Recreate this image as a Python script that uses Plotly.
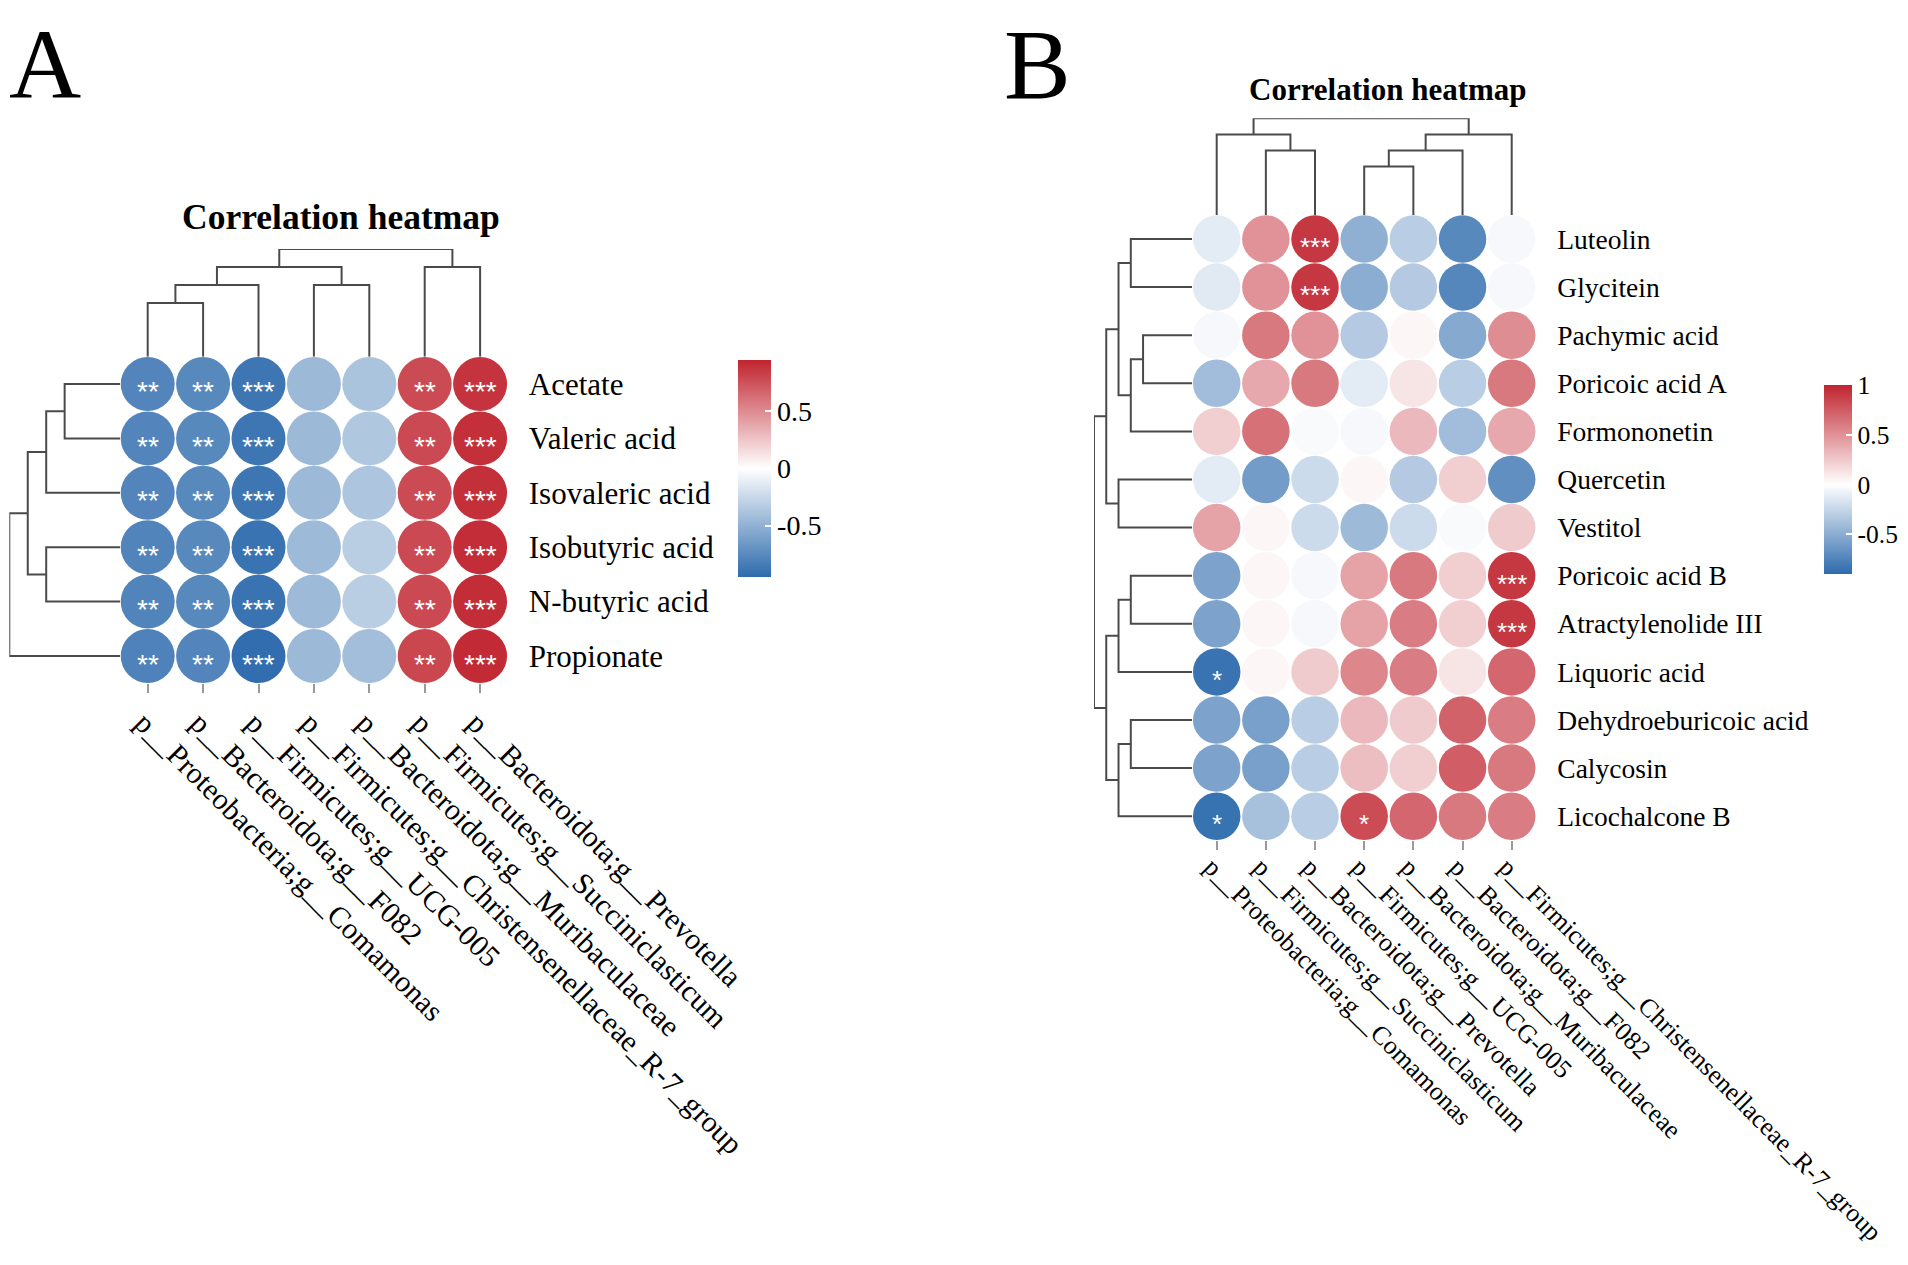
import plotly.graph_objects as go

# ---------------- Panel A data ----------------
a_rows = ["Acetate", "Valeric acid", "Isovaleric acid", "Isobutyric acid", "N-butyric acid", "Propionate"]
a_cols = ["p__Proteobacteria;g__Comamonas", "p__Bacteroidota;g__F082", "p__Firmicutes;g__UCG-005",
          "p__Firmicutes;g__Christensenellaceae_R-7_group", "p__Bacteroidota;g__Muribaculaceae",
          "p__Firmicutes;g__Succiniclasticum", "p__Bacteroidota;g__Prevotella"]
a_vals = [
    [-0.78, -0.76, -0.88, -0.45, -0.38, 0.78, 0.88],
    [-0.78, -0.76, -0.88, -0.45, -0.36, 0.79, 0.90],
    [-0.78, -0.76, -0.88, -0.45, -0.37, 0.78, 0.90],
    [-0.79, -0.76, -0.90, -0.44, -0.32, 0.79, 0.91],
    [-0.79, -0.76, -0.90, -0.44, -0.32, 0.79, 0.91],
    [-0.80, -0.78, -0.93, -0.45, -0.42, 0.80, 0.92],
]
a_sig = [["**", "**", "***", "", "", "**", "***"] for _ in range(6)]
# linkage: (child_a, child_b, height); leaves 0..n-1, new clusters n, n+1, ...
a_col_link = [(0, 1, 3), (7, 2, 4), (3, 4, 4), (8, 9, 5), (5, 6, 5), (10, 11, 6)]
a_row_link = [(0, 1, 3), (6, 2, 4), (3, 4, 4), (7, 8, 5), (9, 5, 6)]
a_cbar_ticks = [-0.5, 0, 0.5]
a_cmin, a_cmax = -0.95, 0.95

# ---------------- Panel B data ----------------
b_rows = ["Luteolin", "Glycitein", "Pachymic acid", "Poricoic acid A", "Formononetin", "Quercetin",
          "Vestitol", "Poricoic acid B", "Atractylenolide III", "Liquoric acid", "Dehydroeburicoic acid",
          "Calycosin", "Licochalcone B"]
b_cols = ["p__Proteobacteria;g__Comamonas", "p__Firmicutes;g__Succiniclasticum", "p__Bacteroidota;g__Prevotella",
          "p__Firmicutes;g__UCG-005", "p__Bacteroidota;g__Muribaculaceae", "p__Bacteroidota;g__F082",
          "p__Firmicutes;g__Christensenellaceae_R-7_group"]
b_vals = [
    [-0.12, 0.50, 0.92, -0.48, -0.30, -0.72, -0.04],
    [-0.13, 0.50, 0.92, -0.50, -0.32, -0.73, -0.04],
    [-0.04, 0.62, 0.50, -0.32, 0.04, -0.52, 0.52],
    [-0.40, 0.40, 0.62, -0.12, 0.12, -0.30, 0.62],
    [0.22, 0.65, -0.03, -0.04, 0.32, -0.40, 0.40],
    [-0.12, -0.60, -0.22, 0.04, -0.32, 0.22, -0.68],
    [0.42, 0.04, -0.22, -0.42, -0.22, -0.03, 0.24],
    [-0.56, 0.04, -0.04, 0.42, 0.62, 0.22, 0.92],
    [-0.56, 0.04, -0.04, 0.42, 0.60, 0.22, 0.92],
    [-0.85, 0.04, 0.24, 0.55, 0.60, 0.12, 0.70],
    [-0.56, -0.58, -0.30, 0.32, 0.24, 0.72, 0.60],
    [-0.56, -0.58, -0.30, 0.30, 0.22, 0.74, 0.62],
    [-0.86, -0.38, -0.30, 0.82, 0.70, 0.62, 0.60],
]
b_sig = [["" for _ in range(7)] for _ in range(13)]
b_sig[0][2] = "***"; b_sig[1][2] = "***"
b_sig[7][6] = "***"; b_sig[8][6] = "***"
b_sig[9][0] = "*"; b_sig[12][0] = "*"; b_sig[12][3] = "*"
b_col_link = [(1, 2, 4), (0, 7, 5), (3, 4, 3), (9, 5, 4), (10, 6, 5), (8, 11, 6)]
b_row_link = [(0, 1, 5), (2, 3, 4), (14, 4, 5), (13, 15, 6), (5, 6, 6), (16, 17, 7),
              (7, 8, 5), (19, 9, 6), (10, 11, 5), (21, 12, 6), (20, 22, 7), (18, 23, 8)]
b_cbar_ticks = [-0.5, 0, 0.5, 1]
b_cmin, b_cmax = -0.9, 1.005

# ---------------- helpers ----------------
PAGE_W, PAGE_H = 1908, 1265
OFF = 8                      # default page margin around the plot div
W, H = PAGE_W - 2 * OFF, PAGE_H - 2 * OFF
BLUE, WHITE, RED = "#2e6bad", "#ffffff", "#c0242f"
SERIF = "Liberation Serif"
LINE = "#4a4a4a"


def fx(a):
    return (a - OFF) / W


def fy(a):
    return 1 - (a - OFF) / H


def px_x(a, b):
    return [fx(a), fx(b)]


def px_y(top, bottom):
    return [fy(bottom), fy(top)]


def scale(cmin, cmax):
    z = (0 - cmin) / (cmax - cmin)
    return [[0, BLUE], [z, WHITE], [1, RED]]


def dendro(link, n):
    pos = {i: float(i) for i in range(n)}
    hgt = {i: 0.0 for i in range(n)}
    P, Hh = [], []
    for k, (a, b, h) in enumerate(link):
        pa, pb = pos[a], pos[b]
        P += [pa, pa, pb, pb, None]
        Hh += [hgt[a], h, h, hgt[b], None]
        pos[n + k] = (pa + pb) / 2
        hgt[n + k] = h
    return P, Hh


fig = go.Figure()


def add_panel(rows, cols, vals, sig, col_link, row_link, cmin, cmax, ticks,
              xa, ya, xd, yd, size, star_size, star_shift, cbar, cbar_font):
    nr, nc = len(rows), len(cols)
    xs, ys, cs = [], [], []
    for i in range(nr):
        for j in range(nc):
            xs.append(j); ys.append(i); cs.append(vals[i][j])
    fig.add_trace(go.Scatter(
        x=xs, y=ys, mode="markers", xaxis=xa, yaxis=ya, showlegend=False, hoverinfo="skip",
        marker=dict(size=size, color=cs, colorscale=scale(cmin, cmax), cmin=cmin, cmax=cmax,
                    line=dict(width=0), showscale=True,
                    colorbar=dict(tickvals=ticks, ticktext=[("%g" % t) for t in ticks],
                                  ticks="inside", ticklen=6, tickwidth=2, tickcolor="white",
                                  outlinewidth=0, xpad=0, ypad=0, lenmode="pixels",
                                  xanchor="left", yanchor="top",
                                  tickfont=dict(family=SERIF, size=cbar_font, color="black"), **cbar))))
    # top dendrogram
    P, Hh = dendro(col_link, nc)
    fig.add_trace(go.Scatter(x=P, y=Hh, mode="lines", xaxis=xa, yaxis=yd, showlegend=False,
                             hoverinfo="skip", line=dict(color=LINE, width=2)))
    # left dendrogram
    P, Hh = dendro(row_link, nr)
    fig.add_trace(go.Scatter(x=Hh, y=P, mode="lines", xaxis=xd, yaxis=ya, showlegend=False,
                             hoverinfo="skip", line=dict(color=LINE, width=2)))
    # stars
    for i in range(nr):
        for j in range(nc):
            if sig[i][j]:
                fig.add_annotation(x=j, y=i, xref=xa, yref=ya, text=sig[i][j], showarrow=False,
                                   yshift=star_shift,
                                   font=dict(family="Liberation Sans", size=star_size, color="white"))


add_panel(a_rows, a_cols, a_vals, a_sig, a_col_link, a_row_link, a_cmin, a_cmax, a_cbar_ticks,
          "x", "y", "x3", "y3", 54, 28, -8, dict(x=fx(738), y=fy(360), thickness=33, len=217), 28)
add_panel(b_rows, b_cols, b_vals, b_sig, b_col_link, b_row_link, b_cmin, b_cmax, b_cbar_ticks,
          "x2", "y2", "x4", "y4", 47.5, 26, -8, dict(x=fx(1824), y=fy(385), thickness=28, len=189), 25.5)

hidden = dict(visible=False, showgrid=False, zeroline=False, fixedrange=True)
common_x = dict(tickangle=45, ticks="outside", ticklen=9, tickwidth=1.5, tickcolor="#9a9a9a",
                showgrid=False, zeroline=False, showline=False, automargin=False,
                ticklabeloverflow="allow")
common_y = dict(side="right", ticks="", showgrid=False, zeroline=False, showline=False,
                ticklabelstandoff=20, automargin=False)

fig.update_layout(
    width=W, height=H, margin=dict(l=0, r=0, t=0, b=0, pad=0, autoexpand=False),
    paper_bgcolor="white", plot_bgcolor="white",
    xaxis=dict(domain=px_x(120, 507.8), range=[-0.5, 6.5], anchor="y",
               ticklabelstandoff=0, ticklabelshift=-4,
               tickvals=list(range(len(a_cols))), ticktext=a_cols,
               tickfont=dict(family=SERIF, size=30, color="black"), **common_x),
    yaxis=dict(domain=px_y(356.8, 683.2), range=[5.5, -0.5], anchor="x",
               tickvals=list(range(len(a_rows))), ticktext=a_rows,
               tickfont=dict(family=SERIF, size=31, color="black"), **common_y),
    xaxis3=dict(domain=px_x(9.3, 120), range=[6, 0], anchor="y", **hidden),
    yaxis3=dict(domain=px_y(249, 356.8), range=[0, 6], anchor="x", **hidden),
    xaxis2=dict(domain=px_x(1192.1, 1536.3), range=[-0.5, 6.5], anchor="y2",
                ticklabelstandoff=-9, ticklabelshift=-5,
                tickvals=list(range(len(b_cols))), ticktext=b_cols,
                tickfont=dict(family=SERIF, size=26, color="black"), **common_x),
    yaxis2=dict(domain=px_y(214.95, 840.25), range=[12.5, -0.5], anchor="x2",
                tickvals=list(range(len(b_rows))), ticktext=b_rows,
                tickfont=dict(family=SERIF, size=27.5, color="black"), **common_y),
    xaxis4=dict(domain=px_x(1094, 1192.1), range=[8, 0], anchor="y2", **hidden),
    yaxis4=dict(domain=px_y(118.3, 214.95), range=[0, 6], anchor="x2", **hidden),
)

fig.add_annotation(x=fx(341), y=fy(217), xref="paper", yref="paper", showarrow=False,
                   text="<b>Correlation heatmap</b>", xanchor="center", yanchor="middle",
                   font=dict(family=SERIF, size=35.5, color="black"))
fig.add_annotation(x=fx(1388), y=fy(90), xref="paper", yref="paper", showarrow=False,
                   text="<b>Correlation heatmap</b>", xanchor="center", yanchor="middle",
                   font=dict(family=SERIF, size=31, color="black"))
fig.add_annotation(x=fx(8), y=1, xref="paper", yref="paper", showarrow=False,
                   text="A", xanchor="left", yanchor="top", borderpad=0,
                   font=dict(family=SERIF, size=100, color="black"))
fig.add_annotation(x=fx(1003), y=1, xref="paper", yref="paper", showarrow=False,
                   text="B", xanchor="left", yanchor="top", borderpad=0,
                   font=dict(family=SERIF, size=100, color="black"))

fig.write_html("out.html")
